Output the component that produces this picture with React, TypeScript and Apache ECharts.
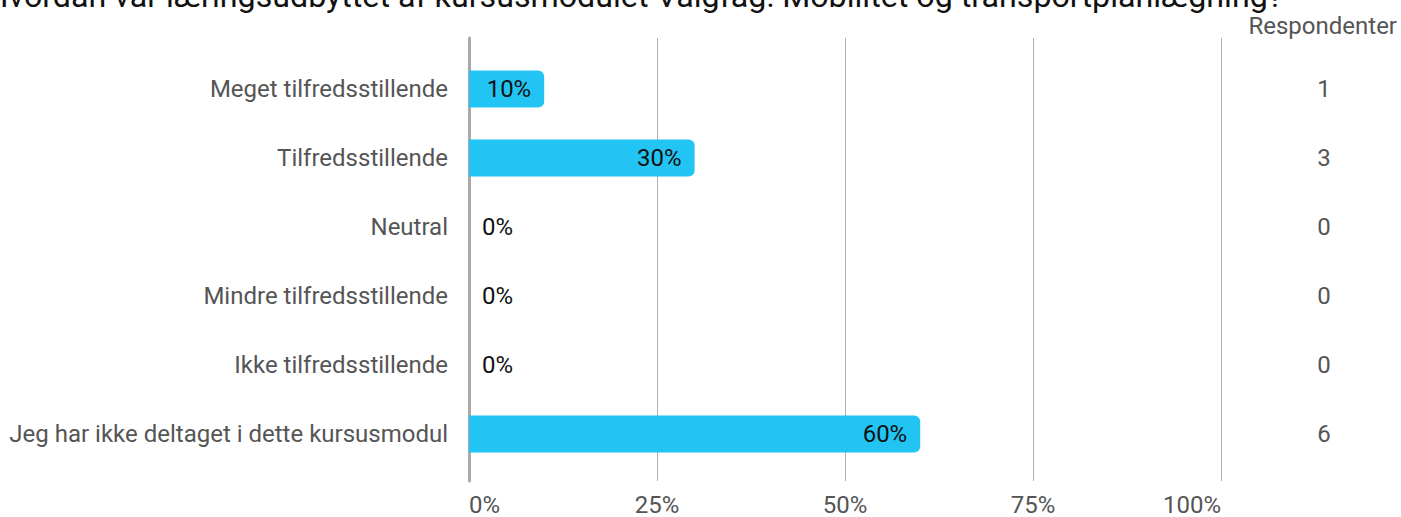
import React, { useEffect, useRef } from "react";
import * as echarts from "echarts";

const titleText =
  "Hvordan var læringsudbyttet af kursusmodulet Valgfag: Mobilitet og transportplanlægning?";
const categories = [
  "Meget tilfredsstillende",
  "Tilfredsstillende",
  "Neutral",
  "Mindre tilfredsstillende",
  "Ikke tilfredsstillende",
  "Jeg har ikke deltaget i dette kursusmodul",
];
const percentages = [10, 30, 0, 0, 0, 60];
const respondents = [1, 3, 0, 0, 0, 6];
const xTicks = [0, 25, 50, 75, 100];
const countHeader = "Respondenter";

const FONT = "Roboto, 'Noto Sans', sans-serif";

export default function App() {
  const ref = useRef<HTMLDivElement>(null);
  useEffect(() => {
    if (!ref.current) return;
    const chart = echarts.init(ref.current, null, { renderer: "svg" });
    const gridLeft = 469;
    const gridRight = 180;
    chart.setOption({
      animation: false,
      textStyle: { fontFamily: FONT },
      grid: [
        { left: gridLeft, right: gridRight, top: 38, bottom: 34 },
        { left: gridLeft, right: gridRight, top: 54.5, bottom: 48.5 },
      ],
      xAxis: [
        {
          gridIndex: 0,
          type: "value",
          min: xTicks[0],
          max: xTicks[xTicks.length - 1],
          interval: xTicks[1] - xTicks[0],
          axisLine: { show: false },
          axisTick: { show: false },
          splitLine: { show: true, lineStyle: { color: "#b0b0b0", width: 1 } },
          axisLabel: {
            formatter: "{value}%",
            color: "#555555",
            fontSize: 24,
            fontFamily: FONT,
            margin: 12,
            alignMinLabel: "left",
            alignMaxLabel: "right",
          },
        },
        {
          gridIndex: 1,
          type: "value",
          min: 0,
          max: 100,
          show: false,
        },
      ],
      yAxis: [
        {
          gridIndex: 0,
          type: "value",
          min: 0,
          max: 1,
          axisLine: { show: true, lineStyle: { color: "#a9a9a9", width: 3 } },
          axisTick: { show: false },
          axisLabel: { show: false },
          splitLine: { show: false },
        },
        {
          gridIndex: 1,
          type: "category",
          inverse: true,
          data: categories,
          axisLine: { show: false },
          axisTick: { show: false },
          splitLine: { show: false },
          axisLabel: {
            color: "#555555",
            fontSize: 24,
            fontFamily: FONT,
            margin: 21,
          },
        },
        {
          gridIndex: 1,
          type: "category",
          inverse: true,
          position: "right",
          data: respondents.map(String),
          axisLine: { show: false },
          axisTick: { show: false },
          splitLine: { show: false },
          axisLabel: {
            color: "#555555",
            fontSize: 24,
            fontFamily: FONT,
            margin: 103,
            align: "center",
          },
        },
      ],
      series: [
        {
          type: "bar",
          xAxisIndex: 1,
          yAxisIndex: 1,
          barWidth: 37,
          itemStyle: { color: "#22c4f3", borderRadius: [0, 6, 6, 0] },
          data: percentages.map((v) => ({
            value: v,
            label: {
              show: true,
              position: v === 0 ? "right" : "insideRight",
              distance: 13,
              formatter: "{c}%",
              color: "#111111",
              fontSize: 24,
              fontFamily: FONT,
            },
          })),
        },
      ],
      graphic: [
        {
          type: "text",
          right: 118,
          top: -20,
          style: {
            text: titleText,
            fill: "#111111",
            fontSize: 32.2,
            fontFamily: FONT,
          },
        },
        {
          type: "text",
          right: 4,
          top: 14,
          style: {
            text: countHeader,
            fill: "#555555",
            fontSize: 24,
            fontFamily: FONT,
          },
        },
      ],
    });
    return () => chart.dispose();
  }, []);
  return <div ref={ref} style={{ width: 1401, height: 517, position: "absolute", left: 0, top: 0 }} />;
}
